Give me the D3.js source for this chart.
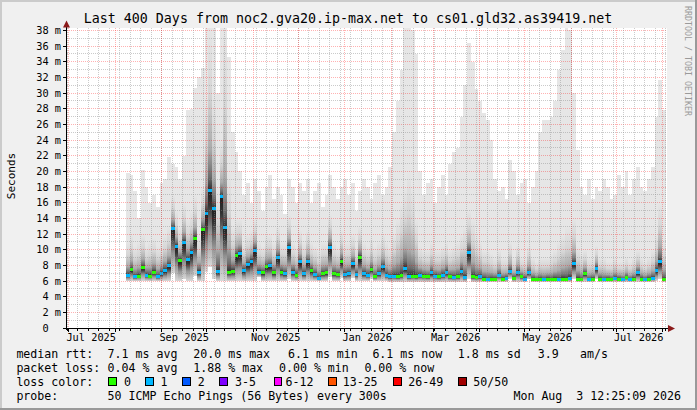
<!DOCTYPE html>
<html><head><meta charset="utf-8">
<script src="https://cdn.jsdelivr.net/npm/d3@7"></script>
<style>
html,body{margin:0;padding:0;background:#f0f0f0;}
svg{display:block;}
text{font-family:"DejaVu Sans Mono",monospace;fill:#000;}
</style></head><body>
<svg id="c" width="697" height="410"></svg>
<script>
// ---------------- data ----------------
const titleText = "Last 400 Days from noc2.gva20.ip-max.net to cs01.gld32.as39419.net";
const endTime = new Date(2026, 7, 3, 12, 25, 9);
const spanDays = 400;
const bucketStart = new Date(2025, 7, 8, 4, 0, 0);
const bucketDays = 2.5;
const yTicks = [0,2,4,6,8,10,12,14,16,18,20,22,24,26,28,30,32,34,36,38];
const yTickLabels = ["0  ","2 m","4 m","6 m","8 m","10 m","12 m","14 m","16 m","18 m","20 m","22 m","24 m","26 m","28 m","30 m","32 m","34 m","36 m","38 m"];

// median rtt per 2.5-day bucket (ms)
const median = [
 6.8,7.5,6.6,6.7,7.8,6.8,6.7,7.2,6.6,7.0,
 7.4,8.0,12.8,10.5,8.7,11.0,8.8,9.7,11.5,7.2,
 12.6,14.7,17.6,15.3,7.3,16.8,12.9,7.2,7.3,9.3,
 9.6,7.4,8.2,8.6,10.0,7.2,7.1,7.9,8.0,7.1,
 9.1,7.2,7.0,10.4,7.2,6.8,8.5,7.0,8.5,7.4,
 6.9,6.4,7.0,7.1,10.4,7.0,6.9,8.6,6.9,7.0,
 8.3,6.9,9.1,7.0,6.8,7.5,6.6,7.0,7.9,6.8,
 6.6,6.7,6.6,6.8,7.7,6.6,6.7,6.6,6.8,6.7,
 6.6,7.1,6.7,6.6,6.8,7.2,6.6,6.5,6.6,7.3,
 6.5,9.7,6.6,6.5,6.6,6.3,6.2,6.3,6.3,6.8,
 6.3,6.4,7.3,6.4,7.2,6.6,6.3,7.1,6.3,6.2,
 6.3,6.2,6.3,6.2,6.3,6.2,6.3,6.2,6.4,8.3,
 6.3,6.2,7.0,6.2,6.3,7.7,6.3,6.2,6.3,6.2,
 6.4,6.3,6.2,6.5,6.2,6.3,7.1,6.3,6.2,6.3,
 6.4,7.4,8.5,6.2
];
// loss colour class per bucket (index into lossLabels)
const loss = [
 1,0,1,0,0,1,0,0,1,1,
 1,1,1,1,0,1,1,1,0,1,
 0,1,1,1,1,1,1,0,0,0,
 1,1,1,1,1,1,0,0,1,0,
 1,0,1,1,1,0,1,1,1,0,
 1,1,0,0,1,0,0,0,1,1,
 1,1,0,1,1,0,0,1,1,1,
 1,1,0,0,1,1,0,0,1,0,
 0,1,1,0,1,1,0,1,0,1,
 1,1,0,0,1,0,1,0,0,1,
 0,1,1,0,1,0,1,1,0,0,
 0,1,0,0,0,1,0,0,1,1,
 0,0,0,1,0,1,0,1,0,0,
 1,0,1,0,1,0,1,0,1,0,
 1,1,1,0
];
// lowest ping per bucket (ms)
const smokeMin = [
 6.0,6.0,6.0,6.0,6.0,6.0,6.0,6.0,6.0,6.0,
 6.0,6.0,7.0,6.0,6.0,6.2,6.0,6.0,6.6,6.0,
 6.0,7.2,7.8,6.2,6.0,6.0,6.0,6.0,6.0,6.0,
 6.0,6.0,6.0,6.0,6.0,6.5,6.0,6.0,6.0,6.0,
 6.0,6.0,6.0,6.3,6.0,6.0,6.0,6.0,6.0,6.0,
 6.0,6.0,6.0,6.0,6.5,6.0,6.0,6.4,6.0,6.0,
 6.4,6.0,6.0,6.0,6.0,6.3,6.0,6.0,6.0,6.0,
 5.9,5.9,5.9,5.9,5.9,5.9,5.9,5.9,5.9,5.9,
 5.9,5.9,5.9,5.9,5.9,5.9,5.9,5.9,5.9,5.9,
 5.9,6.3,5.9,5.9,5.9,5.9,5.9,5.9,5.9,5.9,
 5.9,5.9,6.3,5.9,5.9,5.9,5.9,6.2,5.9,5.9,
 5.9,5.9,5.9,5.9,5.9,5.9,5.9,5.9,5.9,6.3,
 5.9,5.9,5.9,5.9,5.9,6.2,5.9,5.9,5.9,5.9,
 5.9,5.9,5.9,5.9,5.9,5.9,5.9,5.9,5.9,5.9,
 5.9,6.0,6.2,5.9
];
// upper edge of the dense (dark) smoke per bucket (ms)
const smokeUpper = [
 11,12,10.5,11,12,10.5,11,11.5,10.5,11,
 12,13,17,15,13,16,14,15,17,12,
 18,30,38.5,30,18,24,38.5,20,13,14,
 14,11,12,12.5,14,11,10.5,12,12,11,
 13,11,11,14.5,11,10.5,12.5,11,12.5,11,
 10.5,10,11,11,14.5,11,10.5,12.5,11,11,
 12,10.5,13,11,10.5,11.5,10.5,11,12,11,
 10.5,12,14,16,18,20,18,14,10.5,10,
 10,11,10,10,10.5,11,10,10.5,11,12,
 13,15,14,12,11,10,10,9.5,9,10,
 9,9,11,9,10.5,9,9,10.5,9,8.5,
 9,9,9,9.5,10,11,12,13,13,14,
 10.5,9.5,10,9,9,10.5,9,9,8.5,8.5,
 9,8.5,8.5,9,8.5,9,10,9,8.5,9,
 10,12,16,11
];
// highest ping per bucket (ms)
const smokeMax = [
 19.8,19.5,17.5,14,20.2,18,16,17,15.5,18.5,
 19,21.8,21,20.5,19,22,27.8,28,30.6,32,
 33.2,38.5,38.5,38.5,30,38.5,38.5,34.6,25,22.5,
 20,17,18.5,16,19,17.5,15,18,19.5,16.5,
 18,17,14.5,19,18,16,18.5,17.5,19,16,
 17.5,18.5,15.5,17,19.5,18,16.5,18,19,17,
 18.5,15,17.5,19,18,16.5,18.5,19.5,17,18,
 20.5,25,29,33,38.5,38.5,38,35,20,17,
 18.5,19,16,18,19.5,17,21,22.5,23,27,
 31,36.4,34,30.5,29,27.4,26.5,24,19,17.5,
 18,16.5,21.5,20,17,18.5,19,16,18,20,
 25,26.6,26.6,27,29,33,35.5,38.5,38,30,
 22.7,18,17,19,16.5,18,17.5,19,18,16.5,
 17,19.5,18,20,17,19,20.5,18,17.5,19,
 20.6,27,31.7,27.8
];

const lossLabels = ["0","1","2","3-5","6-12","13-25","26-49","50/50"];
const lossColors = ["#26ff00","#00b8ff","#0059ff","#7e00ff","#ff00ff","#ff5500","#ff0000","#a10000"];
const rttStats = ["7.1 ms avg","20.0 ms max","6.1 ms min","6.1 ms now","1.8 ms sd","3.9","am/s"];
const lossStats = ["0.04 % avg","1.88 % max","0.00 % min","0.00 % now"];
const probeText = "50 ICMP Echo Pings (56 Bytes) every 300s";
const stampText = "Mon Aug  3 12:25:09 2026";

// ---------------- layout ----------------
const W = 697, H = 410;
const L = 66.5, R = 666.5, T = 28, B = 328;
const svg = d3.select("#c");
const startTime = new Date(endTime.getTime() - spanDays * 864e5);
const x = d3.scaleTime().domain([startTime, endTime]).range([L, R]);
const y = d3.scaleLinear().domain([0, 38.3]).range([B, T]);
const px = v => Math.floor(v) + 0.5;

// frame
svg.append("rect").attr("width", W).attr("height", H).attr("fill", "#f0f0f0");
svg.append("rect").attr("x",0).attr("y",0).attr("width",W).attr("height",2).attr("fill","#cbcbcb");
svg.append("rect").attr("x",0).attr("y",0).attr("width",2).attr("height",H).attr("fill","#cbcbcb");
svg.append("rect").attr("x",0).attr("y",H-2).attr("width",W).attr("height",2).attr("fill","#999999");
svg.append("rect").attr("x",W-2).attr("y",0).attr("width",2).attr("height",H).attr("fill","#999999");
svg.append("rect").attr("x", 67).attr("y", T).attr("width", 600).attr("height", B - T).attr("fill", "#fff");

const defs = svg.append("defs");
defs.append("clipPath").attr("id","plot").append("rect")
  .attr("x", 67).attr("y", T).attr("width", 600).attr("height", B - T);
const gUp = defs.append("linearGradient").attr("id","gUp").attr("x1",0).attr("y1",1).attr("x2",0).attr("y2",0);
[[0,"#303030"],[0.08,"#6c6c6c"],[0.25,"#ababab"],[0.6,"#d6d6d6"],[1,"#e6e6e6"]].forEach(s=>gUp.append("stop").attr("offset",s[0]).attr("stop-color",s[1]));
const gDn = defs.append("linearGradient").attr("id","gDn").attr("x1",0).attr("y1",1).attr("x2",0).attr("y2",0);
[[0,"#d8d8d8"],[0.45,"#959595"],[0.8,"#333333"],[1,"#1e1e1e"]].forEach(s=>gDn.append("stop").attr("offset",s[0]).attr("stop-color",s[1]));

// data
const buckets = median.map((m, i) => ({
  t0: d3.timeHour.offset(bucketStart, i * bucketDays * 24),
  t1: d3.timeHour.offset(bucketStart, (i + 1) * bucketDays * 24),
  med: m, loss: loss[i], lo: smokeMin[i], up: smokeUpper[i], hi: smokeMax[i]
}));
const gData = svg.append("g").attr("clip-path","url(#plot)").attr("shape-rendering","crispEdges");
const bx = d => x(d.t0), bw = d => x(d.t1) - x(d.t0);
gData.selectAll("rect.light").data(buckets).join("rect").attr("class","light")
  .attr("x", bx).attr("width", bw)
  .attr("y", d => y(d.hi)).attr("height", d => y(d.lo) - y(d.hi)).attr("fill", "#e6e6e6");
gData.selectAll("rect.up").data(buckets).join("rect").attr("class","up")
  .attr("x", bx).attr("width", bw)
  .attr("y", d => y(d.up)).attr("height", d => y(d.med) - y(d.up)).attr("fill", "url(#gUp)");
gData.selectAll("rect.dn").data(buckets).join("rect").attr("class","dn")
  .attr("x", bx).attr("width", bw)
  .attr("y", d => y(d.med)).attr("height", d => Math.max(0, y(d.lo) - y(d.med))).attr("fill", "url(#gDn)");
gData.selectAll("rect.med").data(buckets).join("rect").attr("class","med")
  .attr("x", bx).attr("width", bw)
  .attr("y", d => Math.round(y(d.med)) - 1).attr("height", 2.5).attr("fill", d => lossColors[d.loss]);

// grid
const gGrid = svg.append("g").attr("shape-rendering","crispEdges");
const minorY = d3.range(1, 39, 2);
gGrid.selectAll("line.hmin").data(minorY).join("line")
  .attr("x1", 67).attr("x2", 667).attr("y1", d => px(y(d))).attr("y2", d => px(y(d)))
  .attr("stroke", "rgba(140,140,140,0.45)").attr("stroke-dasharray", "1,1");
gGrid.selectAll("line.hmaj").data(yTicks.slice(1)).join("line")
  .attr("x1", 67).attr("x2", 667).attr("y1", d => px(y(d))).attr("y2", d => px(y(d)))
  .attr("stroke", "rgba(255,0,0,0.3)").attr("stroke-dasharray", "1,1");
const weeks = d3.timeMonday.range(startTime, endTime);
const months = d3.timeMonth.range(startTime, endTime);
gGrid.selectAll("line.vmin").data(weeks).join("line")
  .attr("x1", d => px(x(d))).attr("x2", d => px(x(d))).attr("y1", T).attr("y2", B)
  .attr("stroke", "rgba(140,140,140,0.45)").attr("stroke-dasharray", "1,1");
gGrid.selectAll("line.vmaj").data(months).join("line")
  .attr("x1", d => px(x(d))).attr("x2", d => px(x(d))).attr("y1", T).attr("y2", B)
  .attr("stroke", "rgba(255,0,0,0.3)").attr("stroke-dasharray", "1,1");

// axes
const gAx = svg.append("g").attr("shape-rendering","crispEdges");
gAx.append("line").attr("x1", 66.5).attr("x2", 66.5).attr("y1", B + 2).attr("y2", 24).attr("stroke", "#000");
gAx.append("line").attr("x1", 64).attr("x2", 670).attr("y1", B + 0.5).attr("y2", B + 0.5).attr("stroke", "#000");
gAx.selectAll("line.yt").data(yTicks).join("line")
  .attr("x1", 63).attr("x2", 67).attr("y1", d => px(y(d))).attr("y2", d => px(y(d))).attr("stroke", "#000");
gAx.selectAll("line.xtw").data(weeks).join("line")
  .attr("x1", d => px(x(d))).attr("x2", d => px(x(d))).attr("y1", B).attr("y2", B + 2.5).attr("stroke", "#000");
gAx.selectAll("line.xtm").data(months).join("line")
  .attr("x1", d => px(x(d))).attr("x2", d => px(x(d))).attr("y1", B).attr("y2", B + 3.5).attr("stroke", "#000");
svg.append("path").attr("d", "M66.5,20.5 L63,27.5 L70,27.5 Z").attr("fill", "#8b1a1a");
svg.append("path").attr("d", "M675,328.5 L668,325 L668,332 Z").attr("fill", "#8b1a1a");

// tick labels
svg.selectAll("text.yl").data(yTicks).join("text").attr("class","yl")
  .attr("x", 61).attr("y", d => y(d) + 3.6).attr("text-anchor", "end")
  .attr("font-size", "10.3px").style("white-space", "pre")
  .text((d, i) => yTickLabels[i]);
const labelMonths = d3.timeMonth.every(2).range(d3.timeMonth.floor(startTime), endTime)
  .filter(d => d.getMonth() % 2 === 0);
svg.selectAll("text.xl").data(labelMonths).join("text").attr("class","xl")
  .attr("x", d => x(d3.timeDay.offset(d, 15))).attr("y", 341).attr("text-anchor", "middle")
  .attr("font-size", "10.3px").text(d => d3.timeFormat("%b %Y")(d));

// titles
svg.append("text").attr("x", 348).attr("y", 23).attr("text-anchor", "middle")
  .attr("font-size", "13.3px").text(titleText);
svg.append("text").attr("transform", "translate(15,176) rotate(-90)").attr("text-anchor", "middle")
  .attr("font-size", "11px").text("Seconds");
svg.append("text").attr("transform", "translate(685,6) rotate(90)").attr("text-anchor", "start")
  .attr("font-size", "8.3px").style("fill", "#9a9a9a").text("RRDTOOL / TOBI OETIKER");

// legend
const fs = "11.6px";
const leg = (tx, ty, s, anchor) => svg.append("text").attr("x", tx).attr("y", ty)
  .attr("font-size", fs).attr("text-anchor", anchor || "start").style("white-space", "pre").text(s);
leg(16.4, 358, "median rtt:");
[107.6, 193.3, 288, 372.4, 457.8, 537.8, 580].forEach((xx, i) => leg(xx, 358, rttStats[i]));
leg(16.4, 372, "packet loss:");
[107.6, 193.3, 279, 364.4].forEach((xx, i) => leg(xx, 372, lossStats[i]));
leg(16.4, 386, "loss color:");
const boxX = [108.5, 145.7, 182.5, 219.5, 274, 328.7, 393.5, 458.5];
const labX = [124, 160.5, 197.7, 235, 285.5, 342.7, 408.3, 473.3];
lossLabels.forEach((lab, i) => {
  svg.append("rect").attr("x", boxX[i]).attr("y", 377.5).attr("width", 7.5).attr("height", 7.5)
    .attr("fill", lossColors[i]).attr("stroke", "#000").attr("stroke-width", 1).attr("shape-rendering","crispEdges");
  leg(labX[i], 386, lab);
});
leg(16.4, 400, "probe:");
leg(107.6, 400, probeText);
leg(681, 400, stampText, "end");
</script>
</body></html>
